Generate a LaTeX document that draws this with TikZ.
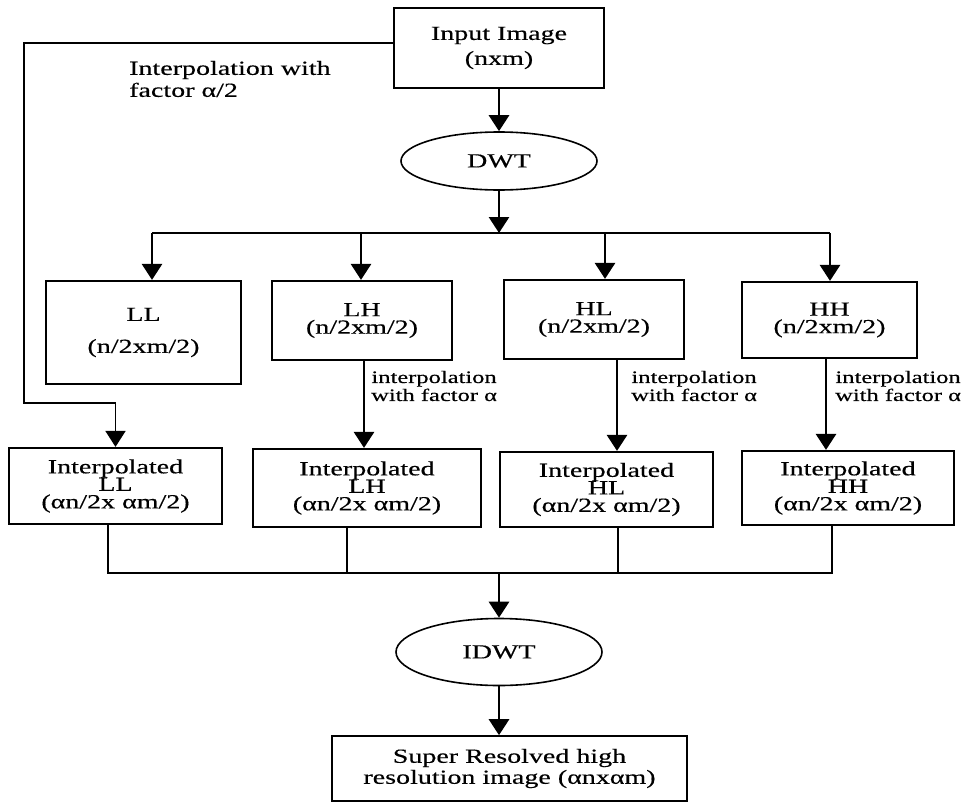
\documentclass[tikz,border=0pt]{standalone}
\usepackage{fontspec}
\setmainfont{Liberation Serif}
\newfontfamily\wf[FakeStretch=1.4,FakeBold=0.4]{Liberation Serif}
\usetikzlibrary{arrows.meta,shapes.geometric}
\begin{document}
\begin{tikzpicture}[x=1pt,y=-1pt,
 box/.style={draw,line width=2.2pt,inner sep=0pt,align=center,font=\wf\fontsize{20}{17.5}\selectfont},
 oval/.style={draw,ellipse,line width=1.6pt,inner sep=0pt,font=\wf\fontsize{20}{20}\selectfont},
 arr/.style={line width=2.8pt,-{Triangle[width=20pt,length=16pt]}},
 ln/.style={line width=1.8pt},
 lbl/.style={align=center,inner sep=0pt,font=\wf\fontsize{17.5}{18}\selectfont},
]
\useasboundingbox[fill=white] (0,0) rectangle (968,803);

% nodes
\node[box,minimum width=210pt,minimum height=80pt,font=\wf\fontsize{20}{25}\selectfont] (in) at (499,48) {Input Image\\(nxm)};
\node[oval,minimum width=196pt,minimum height=58pt] (dwt) at (499,161) {DWT};

\node[box,minimum width=195pt,minimum height=103pt,font=\wf\fontsize{20}{32}\selectfont] (ll) at (143.5,332.5) {LL\\(n/2xm/2)};
\node[box,minimum width=180pt,minimum height=79pt] (lh) at (362,320.5) {LH\\(n/2xm/2)};
\node[box,minimum width=180pt,minimum height=79pt] (hl) at (594,319.5) {HL\\(n/2xm/2)};
\node[box,minimum width=175pt,minimum height=76pt] (hh) at (829.5,320) {HH\\(n/2xm/2)};

\node[box,minimum width=213pt,minimum height=76pt] (ill) at (115.5,486) {Interpolated\\LL\\(αn/2x αm/2)};
\node[box,minimum width=228pt,minimum height=78pt] (ilh) at (367,488) {Interpolated\\LH\\(αn/2x αm/2)};
\node[box,minimum width=213pt,minimum height=75pt] (ihl) at (606.5,489.5) {Interpolated\\HL\\(αn/2x αm/2)};
\node[box,minimum width=212pt,minimum height=74pt] (ihh) at (848,488) {Interpolated\\HH\\(αn/2x αm/2)};

\node[oval,minimum width=206pt,minimum height=67pt] (idwt) at (499,652) {IDWT};
\node[box,line width=1.6pt,minimum width=355pt,minimum height=65pt,font=\wf\fontsize{20}{21}\selectfont] (sr) at (509.5,768.5) {Super Resolved high\\resolution image (αnxαm)};

% labels
\node[lbl,anchor=west,align=left,font=\wf\fontsize{20}{22}\selectfont] (l0) at (129,79) {Interpolation with\\factor α/2};
\node[lbl,anchor=west] (l1) at (371,386) {interpolation\\ with factor α};
\node[lbl,anchor=west] (l2) at (631,386) {interpolation\\ with factor α};
\node[lbl,anchor=west] (l3) at (835,386) {interpolation\\ with factor α};

% helper coordinates
\coordinate (bus) at (499,233);
\coordinate (b1) at (152,233);
\coordinate (b2) at (361,233);
\coordinate (b3) at (605,233);
\coordinate (b4) at (830,233);
\coordinate (c1) at (24,43);
\coordinate (c2) at (24,403);
\coordinate (a2) at (364,0);
\coordinate (a3) at (617,0);
\coordinate (a4) at (826,0);
\coordinate (d1) at (108,0);
\coordinate (d2) at (347,0);
\coordinate (d3) at (618,0);
\coordinate (d4) at (832,0);
\coordinate (bot) at (499,573);

% connectors
\draw[arr] (in.south) -- (dwt.north);
\draw[arr] (dwt.south) -- (bus);
\draw[ln] (b1) -- (b4);
\draw[arr] (b1) -- (b1 |- ll.north);
\draw[arr] (b2) -- (b2 |- lh.north);
\draw[arr] (b3) -- (b3 |- hl.north);
\draw[arr] (b4) -- (b4 |- hh.north);

\draw[ln,-{Triangle[width=20pt,length=16pt]}] ([yshift=5pt]in.west) -- (c1) -- (c2) -| (ill.north);
\draw[arr] (lh.south -| a2) -- (ilh.north -| a2);
\draw[arr] (hl.south -| a3) -- (ihl.north -| a3);
\draw[arr] (hh.south -| a4) -- (ihh.north -| a4);

\draw[ln] (ill.south -| d1) -- (bot -| d1) -- (bot -| d4) -- (ihh.south -| d4);
\draw[ln] (ilh.south -| d2) -- (bot -| d2);
\draw[ln] (ihl.south -| d3) -- (bot -| d3);
\draw[arr] (bot) -- (idwt.north);
\draw[arr] (idwt.south) -- (idwt.south |- sr.north);
\end{tikzpicture}
\end{document}
